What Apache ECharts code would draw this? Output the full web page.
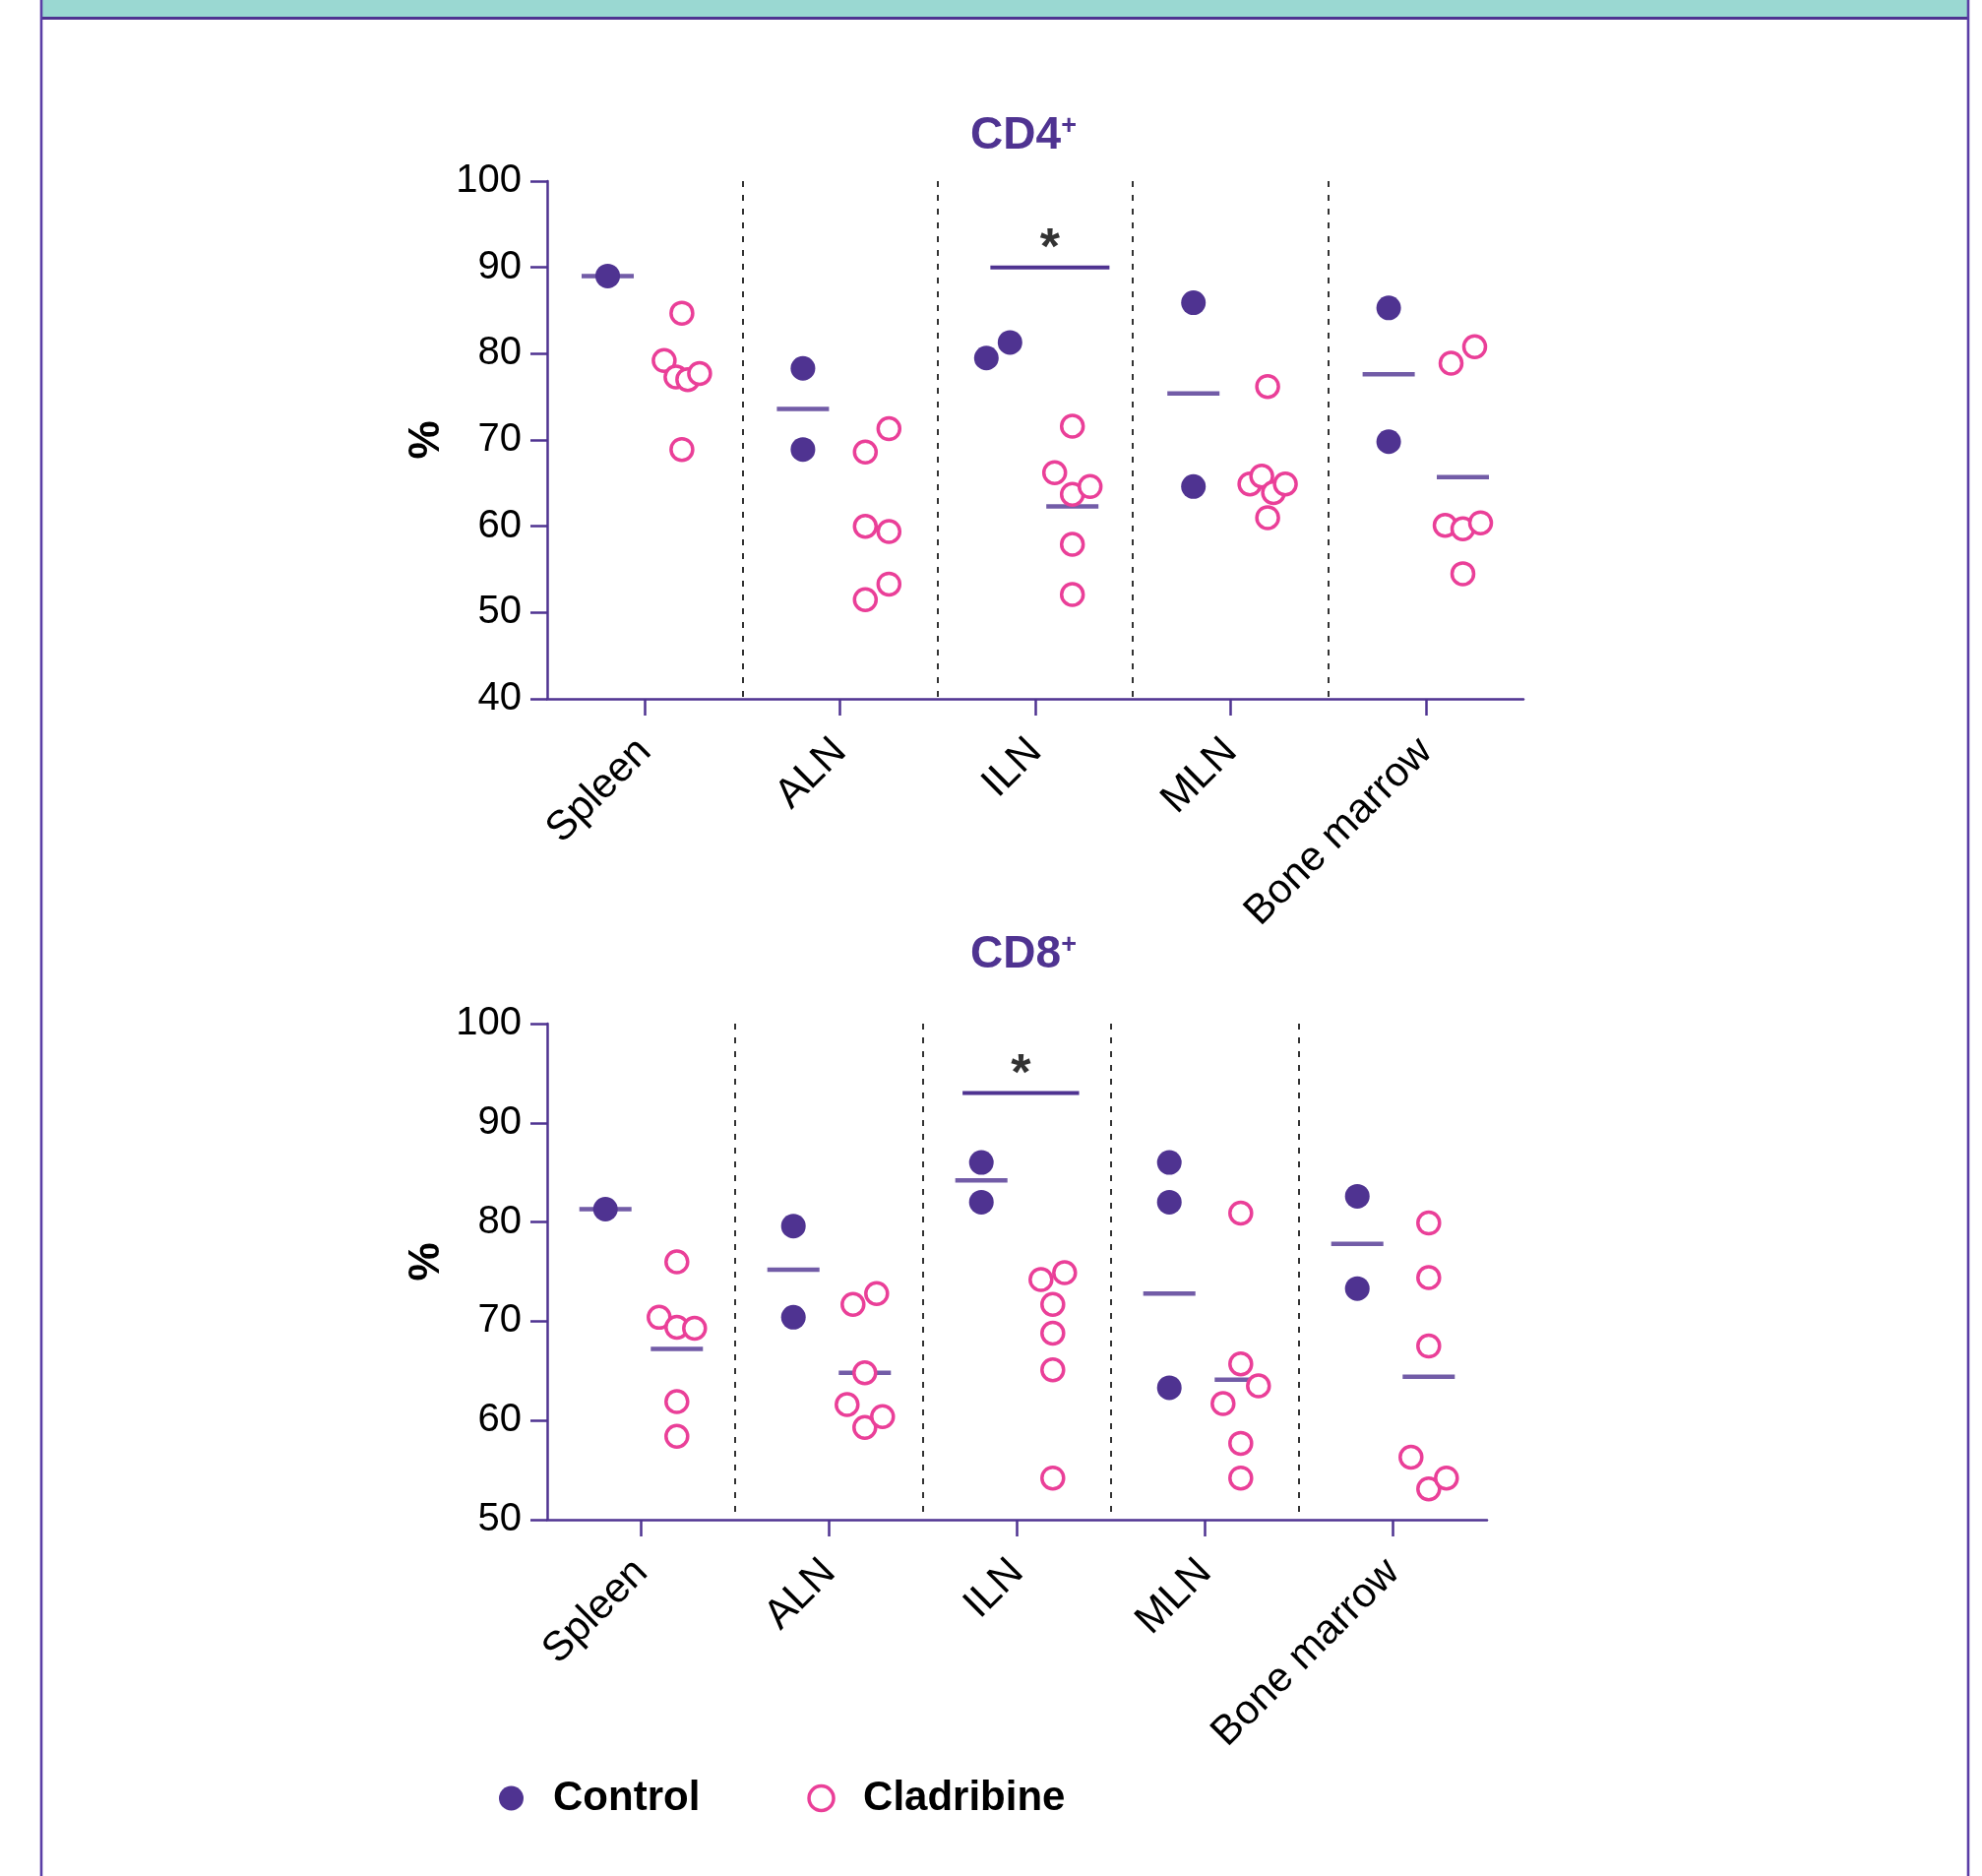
<!DOCTYPE html>
<html>
<head>
<meta charset="utf-8">
<title>CD4+ and CD8+ cells by tissue</title>
<script src="https://cdn.jsdelivr.net/npm/echarts@6/dist/echarts.min.js"></script>
<style>
  html, body { margin: 0; padding: 0; background: #ffffff; }
  #chart { width: 2014px; height: 1906px; }
</style>
</head>
<body>
<div id="chart"></div>
<script>
// ---- data -------------------------------------------------------------
const categories = ['Spleen', 'ALN', 'ILN', 'MLN', 'Bone marrow'];
const groupNames = ['Control', 'Cladribine'];

const cd4Ticks = [40, 50, 60, 70, 80, 90, 100];
const cd8Ticks = [50, 60, 70, 80, 90, 100];

// one list of animals per tissue
const cd4Control = [
  [89.0],
  [78.3, 68.9],
  [79.5, 81.3],
  [85.9, 64.6],
  [85.3, 69.8]
];
const cd4Cladribine = [
  [84.7, 79.2, 77.3, 77.0, 77.7, 68.9],
  [68.6, 71.3, 60.0, 59.4, 51.5, 53.3],
  [71.6, 66.2, 63.7, 64.6, 57.9, 52.1],
  [76.2, 64.9, 65.8, 63.9, 64.9, 61.0],
  [78.9, 80.8, 60.1, 59.7, 60.4, 54.5]
];
const cd4ControlMean = [89.0, 73.6, null, 75.4, 77.6];
const cd4CladribineMean = [null, null, 62.3, null, 65.7];

const cd8Control = [
  [81.3],
  [79.6, 70.4],
  [86.0, 82.0],
  [86.0, 82.0, 63.3],
  [82.6, 73.3]
];
const cd8Cladribine = [
  [76.0, 70.4, 69.4, 69.3, 61.9, 58.4],
  [71.7, 72.8, 64.8, 61.6, 59.3, 60.4],
  [74.2, 74.9, 71.7, 68.8, 65.1, 54.2],
  [80.9, 61.7, 65.7, 63.5, 57.7, 54.2],
  [79.9, 74.4, 67.5, 56.3, 53.1, 54.2]
];
const cd8ControlMean = [81.3, 75.2, 84.2, 72.8, 77.8];
const cd8CladribineMean = [67.2, 64.8, null, 64.1, 64.4];

// significance: tissue index, bracket level, mark
const cd4Significance = { tissue: 2, level: 90, mark: '*' };
const cd8Significance = { tissue: 2, level: 93, mark: '*' };

// ---- style ------------------------------------------------------------
const FONT = '"Liberation Sans", Arial, Helvetica, sans-serif';
const PURPLE = '#4f3391';
const PINK = '#ea3f98';
const FRAME = '#5a3ea6';
const TEAL = '#9ad8d2';

const GROUP_SHIFT = 0.19;      // column offset from tissue centre, in bands
const ROW_TOL = 24.5;          // px: points closer than this share a row
const ROW_STEP = 24;           // px between neighbours in a row
const ROW_SPAN = 36;           // px: widest spread of a row
const MEAN_SIZE = [53, 4.5];

const chart = echarts.init(document.getElementById('chart'), null, { renderer: 'canvas' });

function xCategory(grid) {
  return {
    type: 'category', gridIndex: grid, data: categories, boundaryGap: true,
    axisLine: { show: true, onZero: false, lineStyle: { color: PURPLE, width: 2.5 } },
    axisTick: { show: true, alignWithLabel: true, interval: 0, length: 17, lineStyle: { color: PURPLE, width: 2.5 } },
    axisLabel: { interval: 0, rotate: 45, margin: 47, color: '#000', fontSize: 42, fontFamily: FONT },
    splitLine: { show: true, interval: 0, showMinLine: false, showMaxLine: false,
      lineStyle: { color: '#333', width: 2, type: [6, 8] } }
  };
}
function xValue(grid) {
  return { type: 'value', gridIndex: grid, min: -0.5, max: 4.5, show: false,
    axisLine: { onZero: false }, splitLine: { show: false } };
}
function yValue(grid, ticks, namePad) {
  return {
    type: 'value', gridIndex: grid,
    min: ticks[0], max: ticks[ticks.length - 1], interval: ticks[1] - ticks[0],
    name: '%', nameLocation: 'middle', nameGap: 100,
    nameTextStyle: { fontSize: 44, fontWeight: 'bold', color: '#000', fontFamily: FONT, padding: namePad },
    axisLine: { show: true, onZero: false, lineStyle: { color: PURPLE, width: 2.5 } },
    axisTick: { show: true, length: 17, lineStyle: { color: PURPLE, width: 2.5 } },
    axisLabel: { margin: 26, color: '#000', fontSize: 40, fontFamily: FONT },
    splitLine: { show: false }
  };
}
function panelTitle(label, y) {
  return {
    type: 'text', x: 1040, y: y, z: 10,
    style: {
      text: '{t|' + label + '}{s|+}', align: 'center', verticalAlign: 'middle',
      rich: {
        t: { fontSize: 46, fontWeight: 'bold', fill: PURPLE, fontFamily: FONT },
        s: { fontSize: 27, fontWeight: 'bold', fill: PURPLE, fontFamily: FONT, verticalAlign: 'top' }
      }
    }
  };
}

chart.setOption({
  animation: false,
  backgroundColor: '#ffffff',
  grid: [
    { left: 556, top: 184, width: 992, height: 526, containLabel: false, outerBoundsMode: 'none' },
    { left: 556, top: 1040, width: 955, height: 504, containLabel: false, outerBoundsMode: 'none' }
  ],
  xAxis: [xCategory(0), xCategory(1), xValue(0), xValue(1)],
  yAxis: [yValue(0, cd4Ticks, 0), yValue(1, cd8Ticks, [0, 0, 0, 20])],
  legend: {
    left: 507, top: 1806, padding: 0, itemWidth: 75, itemHeight: 25, itemGap: 109,
    selectedMode: false,
    textStyle: { fontSize: 42, fontWeight: 'bold', color: '#000', fontFamily: FONT },
    data: [
      { name: groupNames[0], icon: 'circle', itemStyle: { color: PURPLE, borderWidth: 0 } },
      { name: groupNames[1], icon: 'circle', itemStyle: { color: '#fff', borderColor: PINK, borderWidth: 3.5 } }
    ]
  },
  graphic: [
    { type: 'rect', shape: { x: 42, y: 0, width: 1958, height: 17 }, style: { fill: TEAL } },
    { type: 'rect', shape: { x: 42, y: 17, width: 1958, height: 3 }, style: { fill: PURPLE } },
    { type: 'line', shape: { x1: 42, y1: 0, x2: 42, y2: 1906 }, style: { stroke: FRAME, lineWidth: 2.6 } },
    { type: 'line', shape: { x1: 2000, y1: 0, x2: 2000, y2: 1906 }, style: { stroke: FRAME, lineWidth: 2.6 } },
    panelTitle('CD4', 138),
    panelTitle('CD8', 970)
  ],
  series: []
});

// Spread near-equal values of one column sideways, like a dot plot.
function swarmOffsets(values, unitPx) {
  const order = values.map((_, i) => i).sort((a, b) => values[b] - values[a]);
  const rows = [];
  order.forEach((i, k) => {
    if (k > 0 && (values[order[k - 1]] - values[i]) * unitPx < ROW_TOL) rows[rows.length - 1].push(i);
    else rows.push([i]);
  });
  const off = values.map(() => 0);
  rows.forEach(r => {
    const n = r.length;
    if (n < 2) return;
    r.sort((a, b) => a - b);
    const step = Math.min(ROW_STEP, ROW_SPAN / (n - 1));
    r.forEach((i, j) => { off[i] = (j - (n - 1) / 2) * step; });
  });
  return off;
}

function panelSeries(p) {
  const x0 = chart.convertToPixel({ xAxisIndex: p.xAxis }, 0);
  const x1 = chart.convertToPixel({ xAxisIndex: p.xAxis }, 1);
  const bandPx = Math.abs(x1 - x0);
  const ya = chart.convertToPixel({ yAxisIndex: p.yAxis }, p.ticks[0]);
  const yb = chart.convertToPixel({ yAxisIndex: p.yAxis }, p.ticks[1]);
  const unitPx = Math.abs(ya - yb) / (p.ticks[1] - p.ticks[0]);

  const points = (sets, side) => sets.flatMap((vals, c) => {
    const off = swarmOffsets(vals, unitPx);
    return vals.map((v, i) => [c + side * GROUP_SHIFT + off[i] / bandPx, v]);
  });
  const means = (list, side) => list
    .map((m, c) => (m == null ? null : [c + side * GROUP_SHIFT, m]))
    .filter(d => d);

  const base = { xAxisIndex: p.xAxis, yAxisIndex: p.yAxis, silent: true };
  const sig = p.sig;
  const sigFrom = sig.tissue + p.sigSpan[0];
  const sigTo = sig.tissue + p.sigSpan[1];

  return [
    Object.assign({}, base, {
      name: 'mean-' + p.key + '-control', type: 'scatter', z: 2,
      symbol: 'rect', symbolSize: MEAN_SIZE, itemStyle: { color: PURPLE },
      data: means(p.controlMean, -1)
    }),
    Object.assign({}, base, {
      name: 'mean-' + p.key + '-cladribine', type: 'scatter', z: 2,
      symbol: 'rect', symbolSize: MEAN_SIZE, itemStyle: { color: PURPLE },
      data: means(p.cladribineMean, 1)
    }),
    Object.assign({}, base, {
      name: groupNames[0], type: 'scatter', z: 4,
      symbol: 'circle', symbolSize: 25, itemStyle: { color: PURPLE, opacity: 1 },
      data: points(p.control, -1)
    }),
    Object.assign({}, base, {
      name: groupNames[1], type: 'scatter', z: 4,
      symbol: 'circle', symbolSize: 22,
      itemStyle: { color: '#ffffff', borderColor: PINK, borderWidth: 3.5, opacity: 1 },
      data: points(p.cladribine, 1)
    }),
    Object.assign({}, base, {
      name: 'sig-' + p.key, type: 'line', z: 3, symbol: 'none',
      lineStyle: { color: PURPLE, width: 4 },
      data: [[sigFrom, sig.level], [sigTo, sig.level]]
    }),
    Object.assign({}, base, {
      name: 'sig-mark-' + p.key, type: 'scatter', z: 3,
      symbol: 'circle', symbolSize: 2, itemStyle: { color: 'rgba(0,0,0,0)' },
      label: { show: true, position: 'top', distance: -9, formatter: sig.mark,
        fontSize: 52, fontWeight: 'bold', color: '#000', fontFamily: FONT },
      data: [[(sigFrom + sigTo) / 2, sig.level]]
    })
  ];
}

const panels = [
  { key: 'cd4', xAxis: 2, yAxis: 0, ticks: cd4Ticks,
    control: cd4Control, cladribine: cd4Cladribine,
    controlMean: cd4ControlMean, cladribineMean: cd4CladribineMean,
    sig: cd4Significance, sigSpan: [-0.23, 0.38] },
  { key: 'cd8', xAxis: 3, yAxis: 1, ticks: cd8Ticks,
    control: cd8Control, cladribine: cd8Cladribine,
    controlMean: cd8ControlMean, cladribineMean: cd8CladribineMean,
    sig: cd8Significance, sigSpan: [-0.29, 0.33] }
];

chart.setOption({ series: panels.flatMap(panelSeries) });
</script>
</body>
</html>
